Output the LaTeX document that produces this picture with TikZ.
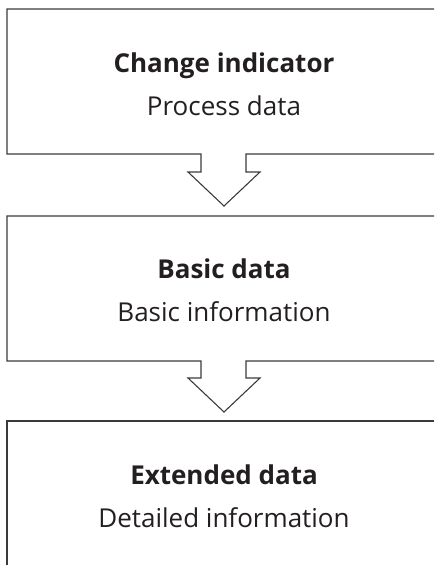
\documentclass[tikz,border=0pt]{standalone}
\usepackage{fontspec}
\setmainfont{Open Sans}
\definecolor{linegray}{HTML}{3A3A3A}
\definecolor{textdark}{HTML}{231F20}
\begin{document}
\begin{tikzpicture}[x=1pt,y=-1pt,
  outline/.style={draw=linegray, line width=1.1pt, line join=miter},
  title/.style={anchor=base, inner sep=0pt, text=textdark, font=\fontsize{26}{32}\selectfont\bfseries},
  subtitle/.style={anchor=base, inner sep=0pt, text=textdark, font=\fontsize{26}{32}\selectfont}]
\useasboundingbox (0,0) rectangle (434,565);
% box 1 with arrow
\draw[outline] (434,9) -- (7,9) -- (7,154) -- (201,154) -- (201,172) -- (188,172)
  -- (224,206) -- (260,172) -- (246,172) -- (246,154) -- (434,154);
% box 2 with arrow
\draw[outline] (434,216) -- (7,216) -- (7,361) -- (201,361) -- (201,378) -- (188,378)
  -- (224,412) -- (260,378) -- (246,378) -- (246,361) -- (434,361);
% box 3
\draw[outline] (434,421) -- (7,421) -- (7,566);
\node[title] (t1) at (224,72) {Change indicator};
\node[subtitle] (s1) at (224,115) {Process data};
\node[title] (t2) at (224,278) {Basic data};
\node[subtitle] (s2) at (224,321) {Basic information};
\node[title] (t3) at (224,484) {Extended data};
\node[subtitle] (s3) at (224,527) {Detailed information};
\end{tikzpicture}
\end{document}
